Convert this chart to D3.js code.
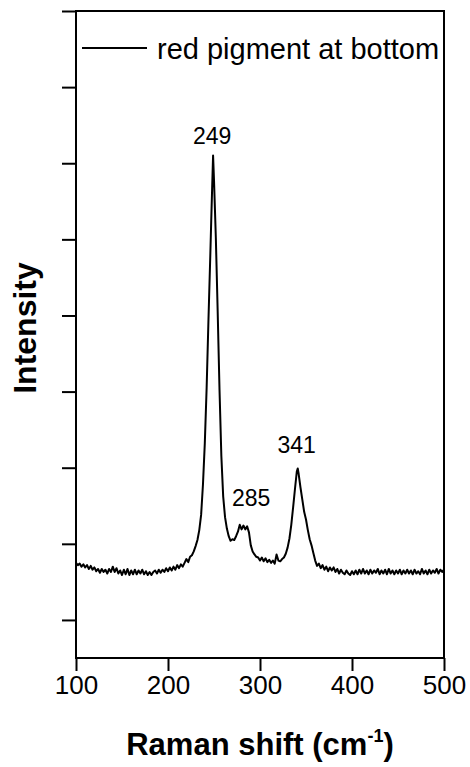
<!DOCTYPE html>
<html>
<head>
<meta charset="utf-8">
<script src="https://cdn.jsdelivr.net/npm/d3@7"></script>
<style>
  body { margin: 0; background: #fff; }
  svg { display: block; font-family: Arial, "Liberation Sans", sans-serif; }
</style>
</head>
<body>
<div id="chart"></div>
<script>
var svgWidth = 470;
var svgHeight = 767;

var margin = { top: 11, right: 26, bottom: 109, left: 76 };
var width = svgWidth - margin.left - margin.right;
var height = svgHeight - margin.top - margin.bottom;

// spectrum (Raman shift in cm-1, intensity in tick units)
var ramanShift = [
  100, 102, 104, 106, 108, 110, 112, 114, 116, 118, 120, 122, 124, 126, 128, 130,
  132, 134, 136, 138, 140, 142, 144, 146, 148, 150, 152, 154, 156, 158, 160, 162,
  164, 166, 168, 170, 172, 174, 176, 178, 180, 182, 184, 186, 188, 190, 192, 194,
  196, 198, 200, 202, 204, 206, 208, 210, 212, 214, 216, 218, 220, 222, 224, 226,
  228, 230, 232, 234, 236, 238, 240, 242, 244, 246, 247, 248, 249, 250, 251, 252,
  254, 256, 258, 260, 262, 264, 266, 268, 270, 272, 274, 276, 278, 280, 282, 284,
  286, 288, 290, 292, 294, 296, 298, 300, 302, 304, 306, 308, 310, 312, 314, 316,
  318, 320, 322, 324, 326, 328, 330, 332, 334, 336, 338, 340, 341, 342, 344, 346,
  348, 350, 352, 354, 356, 358, 360, 362, 364, 366, 368, 370, 372, 374, 376, 378,
  380, 382, 384, 386, 388, 390, 392, 394, 396, 398, 400, 402, 404, 406, 408, 410,
  412, 414, 416, 418, 420, 422, 424, 426, 428, 430, 432, 434, 436, 438, 440, 442,
  444, 446, 448, 450, 452, 454, 456, 458, 460, 462, 464, 466, 468, 470, 472, 474,
  476, 478, 480, 482, 484, 486, 488, 490, 492, 494, 496, 498, 500
];
var intensity = [
  0.75, 0.72, 0.74, 0.70, 0.73, 0.69, 0.72, 0.67, 0.71, 0.66, 0.69, 0.64, 0.67, 0.62, 0.67, 0.63,
  0.66, 0.61, 0.67, 0.63, 0.70, 0.63, 0.68, 0.61, 0.65, 0.59, 0.66, 0.60, 0.67, 0.59, 0.65, 0.60,
  0.66, 0.60, 0.65, 0.61, 0.66, 0.60, 0.64, 0.59, 0.63, 0.59, 0.63, 0.65, 0.61, 0.66, 0.62, 0.66,
  0.63, 0.68, 0.64, 0.69, 0.65, 0.70, 0.66, 0.72, 0.68, 0.73, 0.70, 0.75, 0.80, 0.76, 0.83, 0.85,
  0.90, 0.97, 1.05, 1.18, 1.38, 1.78, 2.32, 3.05, 3.95, 4.80, 5.25, 5.68, 6.10, 5.78, 5.40, 5.02,
  4.05, 3.02, 2.15, 1.62, 1.35, 1.20, 1.10, 1.04, 1.06, 1.05, 1.10, 1.16, 1.25, 1.19, 1.24, 1.19,
  1.23, 1.15, 0.98, 0.90, 0.86, 0.83, 0.82, 0.78, 0.82, 0.77, 0.81, 0.76, 0.79, 0.75, 0.78, 0.74,
  0.86, 0.78, 0.77, 0.80, 0.82, 0.87, 0.95, 1.07, 1.25, 1.48, 1.72, 1.95, 1.99, 1.92, 1.74, 1.58,
  1.42, 1.32, 1.18, 1.06, 0.98, 0.88, 0.78, 0.71, 0.74, 0.68, 0.72, 0.66, 0.70, 0.64, 0.69, 0.65,
  0.69, 0.63, 0.67, 0.61, 0.66, 0.62, 0.60, 0.65, 0.61, 0.59, 0.64, 0.60, 0.65, 0.60, 0.66, 0.61,
  0.67, 0.61, 0.65, 0.60, 0.66, 0.61, 0.65, 0.62, 0.67, 0.60, 0.65, 0.61, 0.66, 0.60, 0.67, 0.61,
  0.65, 0.60, 0.65, 0.61, 0.66, 0.60, 0.65, 0.61, 0.66, 0.61, 0.65, 0.60, 0.66, 0.61, 0.64, 0.60,
  0.67, 0.61, 0.65, 0.60, 0.66, 0.61, 0.65, 0.62, 0.67, 0.61, 0.66, 0.63, 0.66
];

var xTicks = [100, 200, 300, 400, 500];
var yTicks = [0, 1, 2, 3, 4, 5, 6, 7, 8];
var peaks = [249, 285, 341];
var seriesName = "red pigment at bottom";

var svg = d3.select("#chart")
  .append("svg")
  .attr("width", svgWidth)
  .attr("height", svgHeight);

var chartGroup = svg.append("g")
  .attr("transform", `translate(${margin.left}, ${margin.top})`);

var xScale = d3.scaleLinear().domain([100, 500]).range([0, width]);
var yScale = d3.scaleLinear().domain([-0.5, 8]).range([height, 0]);

var data = ramanShift.map((x, i) => ({ x: x, y: intensity[i] }));

// axes: ticks outward, no y labels
var bottomAxis = d3.axisBottom(xScale)
  .tickValues(xTicks)
  .tickSizeInner(13)
  .tickSizeOuter(0)
  .tickPadding(5);

var leftAxis = d3.axisLeft(yScale)
  .tickValues(yTicks)
  .tickSizeInner(14)
  .tickSizeOuter(0)
  .tickFormat("");

var xAxis = chartGroup.append("g")
  .attr("transform", `translate(0, ${height})`)
  .call(bottomAxis);

xAxis.selectAll("text")
  .attr("font-size", 26)
  .attr("fill", "#000")
  .attr("font-family", "Arial, 'Liberation Sans', sans-serif");

var yAxis = chartGroup.append("g").call(leftAxis);

[xAxis, yAxis].forEach(function(ax) {
  ax.select(".domain").remove();
  ax.selectAll("line").attr("stroke", "#000").attr("stroke-width", 2);
});

// frame
chartGroup.append("rect")
  .attr("x", 0)
  .attr("y", 0)
  .attr("width", width)
  .attr("height", height)
  .attr("fill", "none")
  .attr("stroke", "#000")
  .attr("stroke-width", 2);

// spectrum
var line = d3.line()
  .x(d => xScale(d.x))
  .y(d => yScale(d.y));

chartGroup.append("path")
  .datum(data)
  .attr("d", line)
  .attr("fill", "none")
  .attr("stroke", "#000")
  .attr("stroke-width", 2)
  .attr("stroke-linejoin", "round");

// peak labels
var labelOffsets = { 249: [-1, -12], 285: [5, -20], 341: [-1, -15] };
var labelHeights = { 249: 6.10, 285: 1.24, 341: 1.99 };
chartGroup.append("g")
  .selectAll("text")
  .data(peaks)
  .enter()
  .append("text")
  .attr("x", d => xScale(d) + labelOffsets[d][0])
  .attr("y", d => yScale(labelHeights[d]) + labelOffsets[d][1])
  .attr("text-anchor", "middle")
  .attr("font-size", 23)
  .text(d => d);

// legend
var legend = chartGroup.append("g")
  .attr("transform", "translate(6, 37)");

legend.append("line")
  .attr("x1", 0)
  .attr("x2", 65)
  .attr("y1", 0)
  .attr("y2", 0)
  .attr("stroke", "#000")
  .attr("stroke-width", 1.8);

legend.append("text")
  .attr("x", 75)
  .attr("y", 11)
  .attr("font-size", 29)
  .text(seriesName);

// axis titles
var xTitle = chartGroup.append("text")
  .attr("x", width / 2)
  .attr("y", height + 97)
  .attr("text-anchor", "middle")
  .attr("font-size", 31)
  .attr("font-weight", "bold");

xTitle.append("tspan").text("Raman shift (cm");
xTitle.append("tspan").attr("font-size", 18).attr("dy", -13).text("-1");
xTitle.append("tspan").attr("dy", 13).text(")");

chartGroup.append("text")
  .attr("transform", "rotate(-90)")
  .attr("x", -(328 - margin.top))
  .attr("y", 36 - margin.left)
  .attr("text-anchor", "middle")
  .attr("font-size", 32)
  .attr("font-weight", "bold")
  .text("Intensity");
</script>
</body>
</html>
